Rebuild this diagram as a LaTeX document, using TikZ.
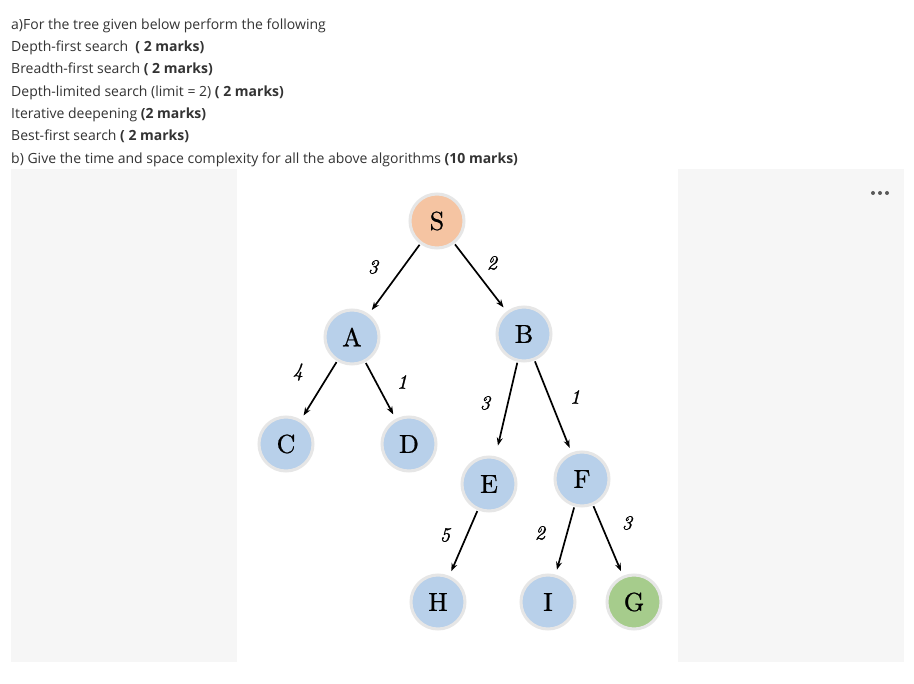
\documentclass[tikz,border=0pt]{standalone}
\usepackage{fontspec}
\newfontfamily\uifont{Open Sans}
\newfontfamily\nodefont{lmroman10-regular.otf}[FakeBold=0.8]
\newfontfamily\wfont{lmroman10-italic.otf}[FakeBold=1.2]
\usetikzlibrary{arrows.meta}
\definecolor{txt}{HTML}{333333}
\definecolor{panel}{HTML}{F6F6F6}
\definecolor{nblue}{HTML}{B8D0EA}
\definecolor{norange}{HTML}{F5C4A2}
\definecolor{ngreen}{HTML}{A6CC8C}
\definecolor{halo}{HTML}{E6E6E6}
\tikzset{
  line/.style={anchor=base west, inner sep=0pt, text=txt, font=\uifont\fontsize{14}{16}\selectfont},
  tnode/.style={circle, minimum size=54pt, inner sep=0pt, draw=halo, line width=3pt, fill=nblue,
    font=\nodefont\fontsize{26}{28}\selectfont},
  elab/.style={inner sep=0pt, font=\wfont\fontsize{20}{22}\selectfont},
  edge/.style={line width=1.7pt, -{Stealth[length=8pt,width=6pt]}, shorten <=1pt, shorten >=5pt},
}
\begin{document}
\begin{tikzpicture}[x=1pt,y=-1pt]
\useasboundingbox[fill=white] (0,0) rectangle (914,684);
\fill[panel] (11,169) rectangle (237,662);
\fill[panel] (678,169) rectangle (904,662);
\node[line] (l1) at (11,29.3) {a)For the tree given below perform the following};
\node[line] (l2) at (11,51.7) {Depth-first search \ \textbf{( 2 marks)}};
\node[line] (l3) at (11,74) {Breadth-first search \textbf{( 2 marks)}};
\node[line] (l4) at (11,96.3) {Depth-limited search (limit = 2) \textbf{( 2 marks)}};
\node[line] (l5) at (11,118.7) {Iterative deepening \textbf{(2 marks)}};
\node[line] (l6) at (11,141) {Best-first search \textbf{( 2 marks)}};
\node[line] (l7) at (11,163.3) {b) Give the time and space complexity for all the above algorithms \textbf{(10 marks)}};
\fill[black!65] (873,193) circle (2) (880,193) circle (2) (887,193) circle (2);
% tree
\node[tnode, fill=norange] (S) at (437,221) {S};
\node[tnode] (A) at (352,337) {A};
\node[tnode] (B) at (524,334) {B};
\node[tnode] (C) at (286,444) {C};
\node[tnode] (D) at (409,444) {D};
\node[tnode] (E) at (489,484) {E};
\node[tnode] (F) at (582,479) {F};
\node[tnode] (H) at (438,602) {H};
\node[tnode] (I) at (548,602) {I};
\node[tnode, fill=ngreen] (G) at (634,602) {G};
\draw[edge] (S) -- (A);
\draw[edge] (S) -- (B);
\draw[edge] (A) -- (C);
\draw[edge] (A) -- (D);
\draw[edge, shorten >=11pt] (B) -- (E);
\draw[edge] (B) -- (F);
\draw[edge] (E) -- (H);
\draw[edge] (F) -- (I);
\draw[edge] (F) -- (G);
\node[elab] (wSA) at (373,267) {3};
\node[elab] (wSB) at (492,263) {2};
\node[elab] (wAC) at (298,372) {4};
\node[elab] (wAD) at (402,382) {1};
\node[elab] (wBE) at (485,403) {3};
\node[elab] (wBF) at (575,397) {1};
\node[elab] (wEH) at (445,535) {5};
\node[elab] (wFI) at (540,533) {2};
\node[elab] (wFG) at (627,523) {3};
\end{tikzpicture}
\end{document}
